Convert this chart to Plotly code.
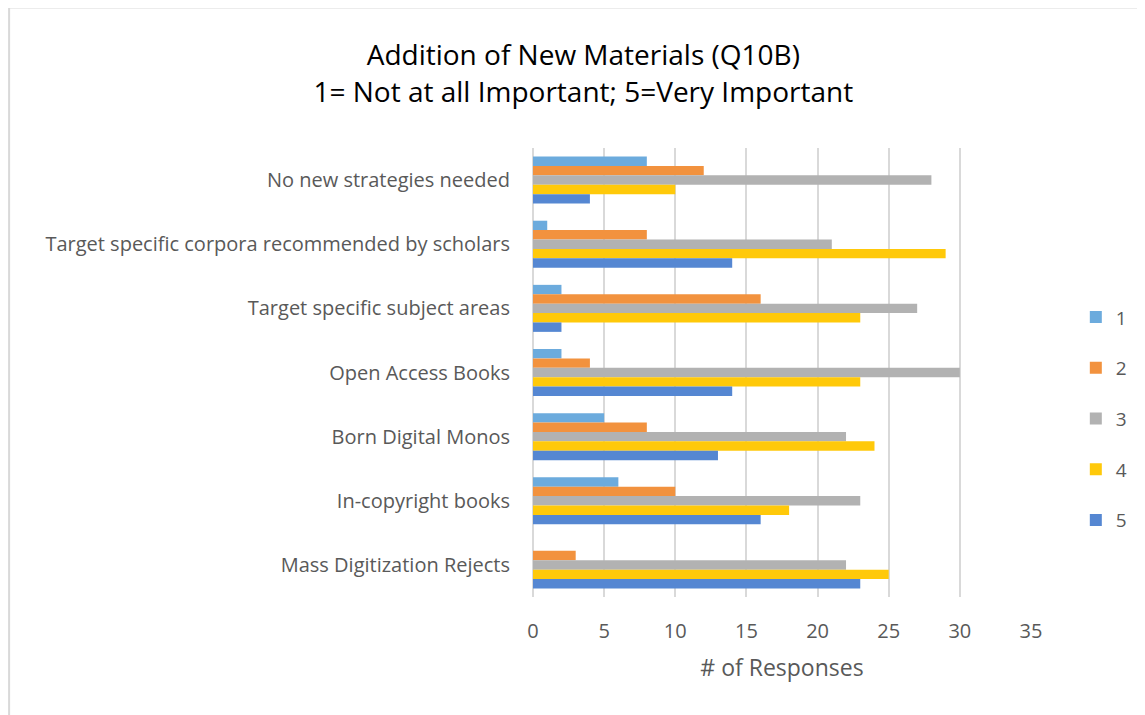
import plotly.graph_objects as go


# ==========================================================
# DATA
# ==========================================================

categories = [
    "No new strategies needed",
    "Target specific corpora recommended by scholars",
    "Target specific subject areas",
    "Open Access Books",
    "Born Digital Monos",
    "In-copyright books",
    "Mass Digitization Rejects",
]

series_names = ["1", "2", "3", "4", "5"]

rating_1 = [8, 1, 2, 2, 5, 6, 0]
rating_2 = [12, 8, 16, 4, 8, 10, 3]
rating_3 = [28, 21, 27, 30, 22, 23, 22]
rating_4 = [10, 29, 23, 23, 24, 18, 25]
rating_5 = [4, 14, 2, 14, 13, 16, 23]

x_ticks = [0, 5, 10, 15, 20, 25, 30, 35]

colors = ["#6CABDD", "#F2923E", "#B2B2B2", "#FFC90A", "#5587D2"]


# ==========================================================
# FIGURE
# ==========================================================

fig = go.Figure()

for name, values, color in zip(
    series_names,
    [rating_1, rating_2, rating_3, rating_4, rating_5],
    colors
):
    fig.add_trace(
        go.Bar(
            y=categories,
            x=values,
            name=name,
            orientation="h",
            marker=dict(color=color, line=dict(width=0)),
            legendgroup=name
        )
    )

# page body has an 8px margin, so the figure is 8px smaller than the window
fig.update_layout(
    template="plotly_white",
    width=1137,
    height=707,
    barmode="group",
    bargap=0.267,
    bargroupgap=0,
    font=dict(family="Open Sans", size=20, color="#595959"),
    title=dict(
        text="Addition of New Materials (Q10B)<br>1= Not at all Important; 5=Very Important",
        x=0.506,
        xanchor="center",
        y=0.919,
        yanchor="middle",
        font=dict(family="Open Sans", size=28, color="#000000")
    ),
    margin=dict(l=525, r=114, t=140, b=118, autoexpand=False),
    plot_bgcolor="white",
    paper_bgcolor="white",
    legend=dict(
        x=1.09,
        y=0.397,
        xanchor="left",
        yanchor="middle",
        font=dict(size=19, color="#595959"),
        tracegroupgap=23,
        itemwidth=30
    ),
)

fig.update_xaxes(
    range=[0, 35],
    tickvals=x_ticks,
    showgrid=True,
    gridcolor="#D9D9D9",
    gridwidth=2,
    zeroline=True,
    zerolinecolor="#D9D9D9",
    zerolinewidth=2,
    showline=False,
    ticks="",
    ticklabelstandoff=20,
    title=dict(text="# of Responses", font=dict(size=23, color="#595959"), standoff=16),
    tickfont=dict(size=20, color="#595959")
)

fig.update_yaxes(
    autorange="reversed",
    showgrid=False,
    showline=False,
    ticks="",
    ticklabelstandoff=22,
    tickfont=dict(size=20, color="#595959")
)

# thin border around the whole chart
fig.add_shape(
    type="rect",
    xref="paper",
    yref="paper",
    x0=-1.052,
    x1=1.3,
    y0=-0.3,
    y1=1.313,
    line=dict(color="#D9D9D9", width=2)
)

fig.write_html("out.html")
